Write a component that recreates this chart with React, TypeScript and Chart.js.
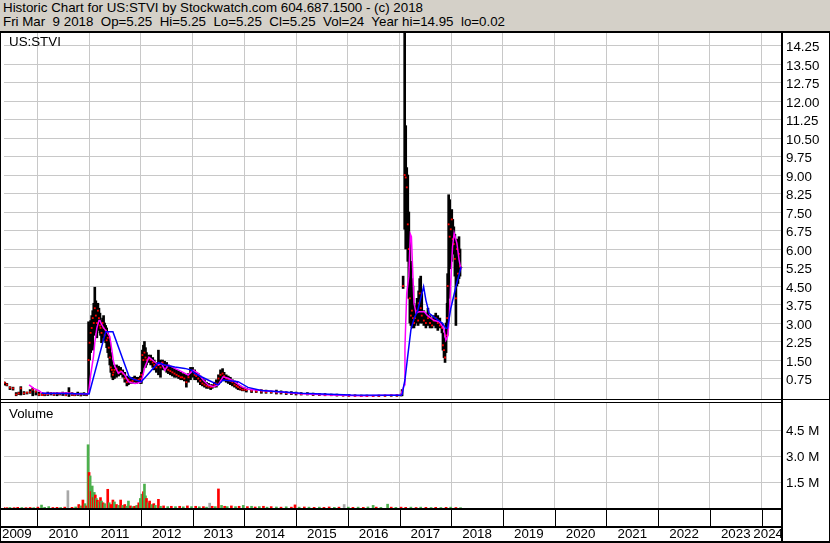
import React, { useEffect, useRef } from "react";
import { Chart, registerables } from "chart.js";

Chart.register(...registerables);

// ---------------- data ----------------
const dates = [
  2009.34, 2009.37, 2009.41, 2009.47, 2009.53, 2009.59, 2009.64, 2009.68, 2009.74, 2009.80, 2009.86, 2009.91, 2009.97, 2010.03, 2010.09, 2010.14, 2010.20, 2010.26, 2010.32, 2010.38, 2010.43, 2010.49, 2010.55, 2010.61, 2010.67, 2010.72, 2010.78, 2010.84, 2010.90, 2010.95,
  2010.99, 2011.01, 2011.03, 2011.05, 2011.07, 2011.09, 2011.11, 2011.13, 2011.15, 2011.17, 2011.19, 2011.21, 2011.22, 2011.24, 2011.26, 2011.28, 2011.30, 2011.32, 2011.34, 2011.36, 2011.38, 2011.40, 2011.42, 2011.44, 2011.46, 2011.47, 2011.49, 2011.53, 2011.57, 2011.61, 2011.65, 2011.69, 2011.73, 2011.76, 2011.80, 2011.84, 2011.88, 2011.92, 2011.96, 2011.99,
  2012.01, 2012.03, 2012.05, 2012.07, 2012.09, 2012.11, 2012.15, 2012.19, 2012.23, 2012.26, 2012.30, 2012.34, 2012.38, 2012.42, 2012.46, 2012.50, 2012.53, 2012.57, 2012.61, 2012.65, 2012.69, 2012.73, 2012.77, 2012.80, 2012.84, 2012.88, 2012.92, 2012.96, 2013.00, 2013.04, 2013.07, 2013.11, 2013.15, 2013.19, 2013.23, 2013.27, 2013.31, 2013.35, 2013.38, 2013.42, 2013.46, 2013.50, 2013.54, 2013.58, 2013.61, 2013.65, 2013.69, 2013.73, 2013.77, 2013.81, 2013.85, 2013.88, 2013.92, 2013.96, 2014.00,
  2014.04, 2014.14, 2014.23, 2014.33, 2014.42, 2014.52, 2014.62, 2014.71, 2014.81, 2014.91, 2015.00, 2015.10, 2015.22, 2015.33, 2015.45, 2015.56, 2015.68, 2015.79, 2015.91, 2016.02, 2016.14, 2016.26, 2016.37, 2016.49, 2016.60, 2016.72, 2016.84, 2016.95, 2017.03,
  2017.05, 2017.07, 2017.10, 2017.12, 2017.14, 2017.16, 2017.18, 2017.20, 2017.22, 2017.24, 2017.26, 2017.28, 2017.30, 2017.32, 2017.34, 2017.36, 2017.37, 2017.39, 2017.41, 2017.43, 2017.47, 2017.51, 2017.55, 2017.59, 2017.63, 2017.66, 2017.70, 2017.74, 2017.78, 2017.82, 2017.84, 2017.86, 2017.88, 2017.90, 2017.92, 2017.93, 2017.95, 2017.97, 2017.99, 2018.01, 2018.03, 2018.05, 2018.07, 2018.09, 2018.11, 2018.13, 2018.15, 2018.17, 2018.19,
];
const lows = [
  0.50, 0.48, 0.45, 0.30, 0.28, 0.05, 0.10, 0.08, 0.10, 0.12, 0.15, 0.05, 0.08, 0.05, 0.06, 0.05, 0.06, 0.08, 0.06, 0.05, 0.08, 0.06, 0.05, 0.02, 0.06, 0.05, 0.06, 0.04, 0.06, 0.05,
  0.15, 1.5, 1.8, 2.0, 1.9, 2.5, 2.8, 2.6, 2.4, 2.7, 2.9, 2.6, 2.5, 2.2, 2.4, 2.6, 2.3, 2.2, 2.0, 1.8, 1.6, 1.3, 1.0, 0.8, 0.7, 0.8, 0.75, 0.8, 0.85, 0.9, 0.8, 0.6, 0.45, 0.5, 0.55, 0.55, 0.6, 0.55, 0.6, 0.55,
  0.55, 0.9, 1.2, 1.4, 1.2, 1.3, 1.4, 1.3, 1.2, 1.1, 1.0, 0.9, 0.8, 1.1, 1.1, 1.0, 0.95, 0.9, 0.85, 0.8, 0.8, 0.75, 0.7, 0.7, 0.65, 0.4, 0.6, 0.7, 0.8, 0.7, 0.7, 0.6, 0.5, 0.45, 0.4, 0.35, 0.35, 0.3, 0.35, 0.4, 0.4, 0.5, 0.6, 0.7, 0.65, 0.6, 0.55, 0.5, 0.45, 0.4, 0.35, 0.3, 0.28, 0.25, 0.25,
  0.2, 0.18, 0.18, 0.15, 0.15, 0.15, 0.12, 0.12, 0.1, 0.1, 0.08, 0.08, 0.08, 0.06, 0.06, 0.05, 0.05, 0.04, 0.04, 0.03, 0.03, 0.02, 0.02, 0.02, 0.02, 0.03, 0.03, 0.03, 0.04,
  0.05, 4.4, 6.8, 6.0, 6.5, 5.5, 4.0, 3.0, 2.9, 2.8, 2.9, 2.8, 2.9, 3.0, 3.1, 2.9, 3.0, 3.2, 3.0, 3.0, 2.9, 2.8, 2.9, 2.8, 2.8, 2.9, 2.8, 2.7, 2.8, 2.6, 1.9, 1.6, 1.4, 1.8, 2.5, 3.0, 4.0, 5.5, 5.2, 5.5, 5.8, 5.8, 4.9, 2.9, 4.5, 4.6, 4.8, 4.9, 5.25,
];
const highs = [
  0.62, 0.60, 0.55, 0.42, 0.40, 0.18, 0.20, 0.42, 0.22, 0.20, 0.30, 0.37, 0.25, 0.20, 0.18, 0.15, 0.20, 0.18, 0.17, 0.18, 0.16, 0.20, 0.18, 0.38, 0.18, 0.15, 0.20, 0.16, 0.18, 0.15,
  3.05, 2.9, 3.1, 3.3, 3.5, 3.8, 4.45, 3.9, 3.6, 3.8, 3.6, 3.4, 3.1, 3.0, 3.2, 3.3, 3.0, 2.9, 2.8, 2.6, 2.4, 2.2, 1.8, 1.5, 1.3, 1.2, 1.2, 1.3, 1.25, 1.2, 1.1, 1.0, 0.85, 0.8, 0.75, 0.8, 0.85, 0.8, 0.8, 0.85,
  1.0, 1.9, 2.1, 2.25, 2.0, 1.8, 1.7, 1.7, 1.6, 1.5, 1.4, 1.9, 1.5, 1.5, 1.45, 1.4, 1.3, 1.25, 1.2, 1.15, 1.1, 1.05, 1.0, 0.95, 0.95, 0.9, 0.95, 1.2, 1.2, 1.1, 1.0, 0.95, 0.85, 0.75, 0.7, 0.6, 0.55, 0.5, 0.5, 0.6, 0.7, 0.9, 1.1, 1.15, 1.0, 0.9, 0.85, 0.8, 0.7, 0.65, 0.6, 0.5, 0.45, 0.4, 0.38,
  0.35, 0.32, 0.3, 0.3, 0.28, 0.25, 0.28, 0.25, 0.22, 0.22, 0.2, 0.18, 0.18, 0.16, 0.15, 0.14, 0.12, 0.12, 0.1, 0.1, 0.09, 0.08, 0.08, 0.07, 0.08, 0.08, 0.09, 0.1, 0.12,
  0.3, 4.9, 14.95, 11.0, 9.3, 9.0, 7.5, 6.5, 5.5, 4.8, 4.5, 3.8, 3.6, 3.7, 4.0, 3.6, 4.3, 4.8, 4.9, 4.2, 3.5, 3.4, 3.6, 3.3, 3.2, 3.3, 3.4, 3.3, 3.2, 3.0, 2.6, 2.4, 2.0, 3.0, 3.8, 5.0, 8.2, 8.0, 7.5, 7.6, 7.2, 6.9, 6.6, 6.0, 6.4, 6.2, 6.5, 6.0, 5.25,
];
const closes = [
  0.55, 0.58, 0.50, 0.38, 0.35, 0.10, 0.15, 0.35, 0.15, 0.18, 0.20, 0.30, 0.22, 0.10, 0.08, 0.10, 0.12, 0.15, 0.10, 0.14, 0.12, 0.15, 0.08, 0.15, 0.10, 0.08, 0.12, 0.10, 0.12, 0.10,
  1.5, 2.2, 2.6, 2.8, 3.2, 3.0, 3.6, 3.3, 3.0, 3.5, 3.2, 2.9, 2.8, 2.6, 3.0, 2.8, 2.5, 2.7, 2.3, 2.4, 2.0, 1.6, 1.2, 1.1, 0.9, 1.0, 1.1, 1.15, 1.0, 1.05, 0.95, 0.75, 0.6, 0.7, 0.62, 0.65, 0.72, 0.68, 0.7, 0.75,
  0.9, 1.7, 1.5, 1.8, 1.6, 1.5, 1.55, 1.5, 1.4, 1.3, 1.2, 1.3, 1.2, 1.4, 1.3, 1.2, 1.1, 1.05, 1.0, 0.95, 0.9, 0.85, 0.8, 0.8, 0.75, 0.6, 0.8, 1.0, 1.05, 0.9, 0.85, 0.75, 0.65, 0.55, 0.5, 0.45, 0.42, 0.4, 0.42, 0.5, 0.55, 0.75, 0.9, 0.95, 0.85, 0.75, 0.7, 0.65, 0.6, 0.5, 0.45, 0.4, 0.35, 0.3, 0.3,
  0.28, 0.25, 0.22, 0.22, 0.2, 0.2, 0.18, 0.18, 0.16, 0.15, 0.14, 0.12, 0.12, 0.1, 0.1, 0.08, 0.08, 0.07, 0.06, 0.05, 0.05, 0.04, 0.04, 0.04, 0.05, 0.05, 0.06, 0.06, 0.08,
  0.2, 4.5, 9.0, 8.9, 8.5, 7.0, 6.0, 4.0, 3.3, 3.5, 3.2, 3.0, 3.2, 3.4, 3.5, 3.1, 3.8, 4.2, 3.6, 3.3, 3.1, 3.0, 3.2, 3.0, 2.9, 3.1, 3.2, 3.0, 2.9, 2.8, 2.1, 1.9, 1.6, 2.5, 3.2, 4.5, 7.0, 6.5, 6.8, 7.2, 6.4, 6.2, 5.6, 4.0, 6.0, 5.0, 5.8, 5.3, 5.25,
];

// short moving average (magenta)
const fastDates = [
  2009.84, 2009.93, 2010.03, 2010.09, 2010.18, 2010.38, 2010.57, 2010.76, 2010.97, 2010.99, 2011.03, 2011.084, 2011.11, 2011.15, 2011.19, 2011.21, 2011.24, 2011.28, 2011.34, 2011.40, 2011.44, 2011.47, 2011.50, 2011.566, 2011.59, 2011.63, 2011.69, 2011.76, 2011.82, 2011.89, 2011.96,
  2012.01, 2012.08, 2012.156, 2012.24, 2012.337, 2012.40, 2012.464, 2012.53, 2012.657, 2012.79, 2012.915, 2013.01, 2013.11, 2013.205, 2013.30, 2013.40, 2013.494, 2013.59, 2013.69, 2013.81, 2013.943, 2014.07, 2014.33, 2014.65, 2015.10, 2015.68, 2016.26, 2017.03,
  2017.09, 2017.105, 2017.12, 2017.14, 2017.18, 2017.21, 2017.23, 2017.25, 2017.28, 2017.32, 2017.38, 2017.48, 2017.543, 2017.67, 2017.77, 2017.83, 2017.863, 2017.896, 2017.93, 2017.96, 2017.992, 2018.025, 2018.056, 2018.11, 2018.152, 2018.19,
];
const fastValues = [
  0.49, 0.35, 0.26, 0.16, 0.14, 0.15, 0.16, 0.13, 0.14, 0.15, 0.9, 1.63, 2.2, 2.8, 3.1, 3.1, 2.95, 2.8, 2.65, 2.45, 1.9, 1.45, 1.23, 0.96, 1.0, 1.03, 0.89, 0.62, 0.58, 0.55, 0.58,
  0.62, 1.23, 1.61, 1.47, 1.30, 1.37, 1.09, 1.3, 1.16, 1.03, 0.89, 1.09, 0.96, 0.69, 0.49, 0.42, 0.49, 0.82, 0.76, 0.62, 0.42, 0.31, 0.26, 0.21, 0.13, 0.08, 0.05, 0.08,
  0.5, 2.0, 3.0, 4.2, 4.9, 6.6, 6.5, 5.4, 3.8, 3.4, 3.46, 3.46, 3.3, 3.1, 3.05, 2.85, 2.72, 2.31, 2.45, 3.12, 4.74, 6.09, 6.64, 6.23, 5.55, 5.15,
];

// long moving average (blue)
const slowDates = [
  2010.09, 2010.47, 2010.97, 2011.00, 2011.32, 2011.46, 2011.774, 2011.86,
  2012.01, 2012.337, 2012.464, 2012.657, 2012.85, 2012.98, 2013.04, 2013.17, 2013.30, 2013.494, 2013.59, 2013.88, 2014.07, 2014.33, 2015.10, 2016.06, 2017.03,
  2017.05, 2017.105, 2017.157, 2017.22, 2017.285, 2017.35, 2017.466, 2017.51, 2017.574, 2017.70, 2017.83, 2017.896, 2017.93, 2017.992, 2018.09, 2018.19,
];
const slowValues = [
  0.15, 0.14, 0.12, 0.12, 2.65, 2.65, 0.82, 0.72,
  0.62, 1.39, 1.3, 1.22, 1.16, 1.09, 0.96, 0.82, 0.69, 0.49, 0.69, 0.62, 0.39, 0.26, 0.15, 0.08, 0.07,
  0.1, 0.69, 1.63, 2.72, 3.2, 3.5, 4.47, 3.93, 3.39, 3.19, 2.99, 2.78, 2.8, 3.6, 4.47, 5.28,
];

// volume (millions of shares); direction u = up day, d = down day, f = unchanged
const volDates = [
  2009.35, 2009.41, 2009.47, 2009.55, 2009.62, 2009.70, 2009.78, 2009.86, 2009.93, 2010.01, 2010.08, 2010.14, 2010.22, 2010.30, 2010.38, 2010.45, 2010.53, 2010.59, 2010.67, 2010.74, 2010.80, 2010.84, 2010.88, 2010.92, 2010.95,
  2010.98, 2011.00, 2011.02, 2011.04, 2011.06, 2011.08, 2011.10, 2011.12, 2011.14, 2011.16, 2011.19, 2011.22, 2011.24, 2011.27, 2011.30, 2011.36, 2011.39, 2011.42, 2011.46, 2011.49, 2011.53, 2011.57, 2011.61, 2011.65, 2011.69, 2011.73, 2011.76, 2011.80, 2011.84, 2011.88, 2011.92, 2011.96, 2011.99,
  2012.02, 2012.05, 2012.07, 2012.09, 2012.11, 2012.14, 2012.17, 2012.21, 2012.25, 2012.28, 2012.34, 2012.38, 2012.44, 2012.52, 2012.59, 2012.67, 2012.75, 2012.82, 2012.90, 2012.98,
  2013.06, 2013.13, 2013.21, 2013.27, 2013.33, 2013.38, 2013.44, 2013.50, 2013.56, 2013.62, 2013.67, 2013.75, 2013.83, 2013.90, 2013.98,
  2014.06, 2014.14, 2014.21, 2014.29, 2014.37, 2014.44, 2014.52, 2014.62, 2014.71, 2014.81, 2014.91, 2014.98, 2015.06, 2015.16, 2015.25, 2015.35, 2015.45, 2015.54, 2015.64, 2015.74, 2015.83, 2015.93,
  2016.01, 2016.10, 2016.20, 2016.30, 2016.39, 2016.49, 2016.55, 2016.64, 2016.77, 2016.84, 2016.93, 2017.03, 2017.12, 2017.22, 2017.32, 2017.41, 2017.51, 2017.61, 2017.70, 2017.80, 2017.90, 2017.99, 2018.09, 2018.18,
];
const volumesM = [
  0.03, 0.02, 0.03, 0.02, 0.04, 0.03, 0.02, 0.03, 0.02, 0.05, 0.17, 0.04, 0.08, 0.03, 0.04, 0.03, 0.05, 1.0, 0.04, 0.06, 0.2, 0.12, 0.46, 0.25, 0.12,
  3.65, 2.05, 1.85, 0.95, 1.27, 0.6, 0.9, 0.75, 0.55, 0.45, 0.35, 0.6, 0.4, 0.3, 0.25, 1.08, 0.3, 0.2, 0.46, 0.35, 0.2, 0.15, 0.46, 0.15, 0.2, 0.1, 0.4, 0.12, 0.08, 0.1, 0.15, 0.3, 0.55,
  0.8, 0.94, 1.38, 0.7, 0.55, 0.3, 0.4, 0.2, 0.25, 0.15, 0.5, 0.1, 0.12, 0.08, 0.1, 0.08, 0.1, 0.07, 0.12, 0.08,
  0.1, 0.07, 0.08, 0.05, 0.28, 0.1, 0.08, 1.1, 0.15, 0.1, 0.08, 0.12, 0.08, 0.1, 0.15,
  0.08, 0.1, 0.06, 0.08, 0.1, 0.05, 0.08, 0.06, 0.05, 0.07, 0.05, 0.18, 0.05, 0.06, 0.05, 0.04, 0.05, 0.04, 0.06, 0.04, 0.05, 0.2,
  0.05, 0.04, 0.05, 0.04, 0.06, 0.15, 0.05, 0.04, 0.22, 0.05, 0.04, 0.05, 0.04, 0.05, 0.03, 0.05, 0.04, 0.03, 0.04, 0.03, 0.04, 0.05, 0.03, 0.02,
];
const volDirs = [
  "d", "d", "u", "d", "d", "u", "d", "d", "u", "d", "u", "u", "u", "d", "d", "u", "d", "f", "d", "u", "d", "u", "d", "u", "d",
  "u", "d", "u", "d", "u", "d", "u", "d", "u", "d", "u", "d", "u", "d", "u", "d", "u", "d", "d", "u", "d", "u", "d", "u", "d", "u", "u", "d", "u", "d", "u", "d", "u",
  "u", "d", "u", "u", "d", "u", "d", "u", "d", "u", "d", "u", "d", "u", "d", "u", "d", "u", "d", "u",
  "d", "u", "d", "u", "f", "d", "u", "d", "u", "d", "u", "d", "u", "d", "u",
  "d", "u", "d", "u", "d", "u", "d", "u", "d", "u", "d", "d", "u", "d", "u", "d", "u", "d", "d", "u", "d", "f",
  "u", "d", "u", "d", "u", "u", "d", "u", "u", "d", "u", "d", "d", "u", "d", "u", "d", "u", "d", "u", "d", "u", "d", "u",
];

const yearTicks = [2010, 2011, 2012, 2013, 2014, 2015, 2016, 2017, 2018, 2019, 2020, 2021, 2022, 2023, 2024];
const yearLabels = ["2009", "2010", "2011", "2012", "2013", "2014", "2015", "2016", "2017", "2018", "2019", "2020", "2021", "2022", "2023", "2024"];
const priceTicks = [0.75, 1.5, 2.25, 3.0, 3.75, 4.5, 5.25, 6.0, 6.75, 7.5, 8.25, 9.0, 9.75, 10.5, 11.25, 12.0, 12.75, 13.5, 14.25];
const volumeTicks = [1.5, 3.0, 4.5];

const titleLine1 = "Historic Chart for US:STVI by Stockwatch.com 604.687.1500 - (c) 2018";
const titleLine2 = "Fri Mar  9 2018  Op=5.25  Hi=5.25  Lo=5.25  Cl=5.25  Vol=24  Year hi=14.95  lo=0.02";
const symbolLabel = "US:STVI";
const volumeLabel = "Volume";

// ---------------- layout / style ----------------
const W = 830;
const H = 543;
const AREA_TOP = 33;
const AREA_LEFT = 2;
const AREA_RIGHT = 781;
const AREA_BOTTOM = 508;
const FONT = '"Liberation Sans", Arial, Helvetica, sans-serif';
const FONT_SIZE = 13.33;
const GRID = "#c8c8c8";
const HEADER_BG = "#d4d0c8";
const DIR_COLORS: Record<string, string> = { u: "#4cb04c", d: "#ff0000", f: "#a8a8a8" };

const framePlugin = {
  id: "stockFrame",
  beforeDraw(chart: any) {
    const ctx = chart.ctx;
    ctx.save();
    ctx.fillStyle = "#ffffff";
    ctx.fillRect(0, 0, W, H);
    ctx.restore();
  },
  afterDraw(chart: any) {
    const ctx = chart.ctx;
    const xs = chart.scales.x;
    ctx.save();
    // gap between price and volume panels
    ctx.fillStyle = "#ffffff";
    ctx.fillRect(AREA_LEFT, 399, AREA_RIGHT - AREA_LEFT, 4);
    ctx.fillStyle = "#000000";
    ctx.fillRect(0, 31, W, 2); // top line
    ctx.fillRect(0, 31, 1, H - 31); // left border
    ctx.fillRect(W - 1, 31, 1, H - 31); // right border
    ctx.fillRect(AREA_RIGHT, 31, 2, H - 31); // axis line
    ctx.fillRect(0, 399, W, 1);
    ctx.fillRect(0, 402, AREA_RIGHT, 1);
    ctx.fillRect(0, AREA_BOTTOM, AREA_RIGHT, 2);
    ctx.fillRect(0, 526, AREA_RIGHT, 2);
    ctx.fillRect(0, H - 2, W, 2);
    // year separators in the empty row
    for (const yr of yearTicks) {
      const px = Math.round(xs.getPixelForValue(yr));
      ctx.fillRect(px, AREA_BOTTOM + 2, 1, 526 - AREA_BOTTOM - 2);
    }
    // year labels
    ctx.font = `${FONT_SIZE}px ${FONT}`;
    ctx.textBaseline = "middle";
    ctx.textAlign = "left";
    for (const lab of yearLabels) {
      const yr = Number(lab);
      const l = xs.getPixelForValue(yr);
      const r = xs.getPixelForValue(yr + 1);
      const w = ctx.measureText(lab).width;
      let left = (l + r) / 2 - w / 2;
      left = Math.max(AREA_LEFT, Math.min(left, AREA_RIGHT + 2 - w));
      ctx.fillText(lab, left, 534);
    }
    // panel captions
    ctx.fillText(symbolLabel, 9, 42);
    ctx.fillText(volumeLabel, 9, 414);
    ctx.restore();
  },
};

export default function App() {
  const canvasRef = useRef<HTMLCanvasElement | null>(null);

  useEffect(() => {
    const canvas = canvasRef.current;
    if (!canvas) return;
    const n = Math.min(dates.length, lows.length, highs.length, closes.length);
    const hlData = [] as any[];
    const closeData = [] as any[];
    for (let i = 0; i < n; i++) {
      hlData.push({ x: dates[i], y: [lows[i], highs[i]] });
      closeData.push({ x: dates[i], y: closes[i] });
    }
    const fastData = fastDates.map((d, i) => ({ x: d, y: fastValues[i] }));
    const slowData = slowDates.map((d, i) => ({ x: d, y: slowValues[i] }));
    const vn = Math.min(volDates.length, volumesM.length, volDirs.length);
    const volData = [] as any[];
    const volColors = [] as string[];
    for (let i = 0; i < vn; i++) {
      volData.push({ x: volDates[i], y: volumesM[i] });
      volColors.push(DIR_COLORS[volDirs[i]] || DIR_COLORS.f);
    }

    const tickFont = { family: FONT, size: FONT_SIZE };

    const chart = new Chart(canvas, {
      type: "bar",
      data: {
        datasets: [
          {
            type: "bar",
            label: "High-Low",
            data: hlData,
            xAxisID: "x",
            yAxisID: "yPrice",
            backgroundColor: "#000000",
            barThickness: 2,
            grouped: false,
            order: 5,
          } as any,
          {
            type: "line",
            label: "Close",
            data: closeData,
            xAxisID: "x",
            yAxisID: "yPrice",
            showLine: false,
            pointStyle: "rect",
            pointRadius: 1.3,
            pointBorderWidth: 0,
            pointBackgroundColor: "#ff0000",
            order: 4,
          } as any,
          {
            type: "line",
            label: "Short MA",
            data: fastData,
            xAxisID: "x",
            yAxisID: "yPrice",
            borderColor: "#ff00ff",
            borderWidth: 1.5,
            pointRadius: 0,
            tension: 0,
            order: 3,
          } as any,
          {
            type: "line",
            label: "Long MA",
            data: slowData,
            xAxisID: "x",
            yAxisID: "yPrice",
            borderColor: "#0000ff",
            borderWidth: 1.5,
            pointRadius: 0,
            tension: 0,
            order: 2,
          } as any,
          {
            type: "bar",
            label: "Volume",
            data: volData,
            xAxisID: "x",
            yAxisID: "yVol",
            backgroundColor: volColors,
            barThickness: 2,
            grouped: false,
            order: 6,
          } as any,
        ],
      },
      options: {
        responsive: false,
        maintainAspectRatio: false,
        devicePixelRatio: 1,
        animation: false,
        events: [],
        layout: { padding: { top: AREA_TOP, left: AREA_LEFT, right: 0, bottom: 0 } },
        plugins: {
          legend: { display: false },
          tooltip: { enabled: false },
          title: { display: false },
        },
        scales: {
          x: {
            type: "linear",
            position: "bottom",
            min: 2009.355,
            max: 2024.374,
            offset: false,
            grid: { color: GRID, lineWidth: 1, drawTicks: false, offset: false },
            border: { display: false },
            ticks: { display: false, autoSkip: false },
            afterBuildTicks: (axis: any) => {
              axis.ticks = yearTicks.map((v) => ({ value: v }));
            },
            afterFit: (axis: any) => {
              axis.height = H - AREA_BOTTOM;
            },
          },
          yPrice: {
            type: "linear",
            position: "right",
            stack: "panels",
            stackWeight: 370,
            min: -0.243,
            max: 14.757,
            grid: { color: GRID, lineWidth: 1, drawTicks: false },
            border: { display: false },
            ticks: {
              autoSkip: false,
              font: tickFont,
              color: "#000000",
              crossAlign: "near",
              padding: 5,
              labelOffset: 2,
              callback: (v: any) => Number(v).toFixed(2),
            },
            afterBuildTicks: (axis: any) => {
              axis.ticks = priceTicks.map((v) => ({ value: v }));
            },
            afterFit: (axis: any) => {
              axis.width = W - AREA_RIGHT;
            },
          },
          yVol: {
            type: "linear",
            position: "right",
            stack: "panels",
            stackWeight: 105,
            min: 0,
            max: 6.06,
            grid: { color: GRID, lineWidth: 1, drawTicks: false },
            border: { display: false },
            ticks: {
              autoSkip: false,
              font: tickFont,
              color: "#000000",
              crossAlign: "near",
              padding: 5,
              labelOffset: 1,
              callback: (v: any) => Number(v).toFixed(1) + " M",
            },
            afterBuildTicks: (axis: any) => {
              axis.ticks = volumeTicks.map((v) => ({ value: v }));
            },
            afterFit: (axis: any) => {
              axis.width = W - AREA_RIGHT;
            },
          },
        },
      } as any,
      plugins: [framePlugin],
    });

    return () => {
      chart.destroy();
    };
  }, []);

  const lineStyle: React.CSSProperties = {
    position: "absolute",
    left: 3,
    fontFamily: FONT,
    fontSize: FONT_SIZE,
    lineHeight: "14px",
    whiteSpace: "pre",
    color: "#000",
  };

  return (
    <div style={{ position: "fixed", left: 0, top: 0, width: W, height: H, overflow: "hidden", background: "#fff" }}>
      <canvas
        ref={canvasRef}
        width={W}
        height={H}
        style={{ position: "absolute", left: 0, top: 0, width: W, height: H, display: "block" }}
      />
      <div style={{ position: "absolute", left: 0, top: 0, width: W, height: 31, background: HEADER_BG }}>
        <div style={{ ...lineStyle, top: 1 }}>{titleLine1}</div>
        <div style={{ ...lineStyle, top: 15 }}>{titleLine2}</div>
      </div>
    </div>
  );
}
